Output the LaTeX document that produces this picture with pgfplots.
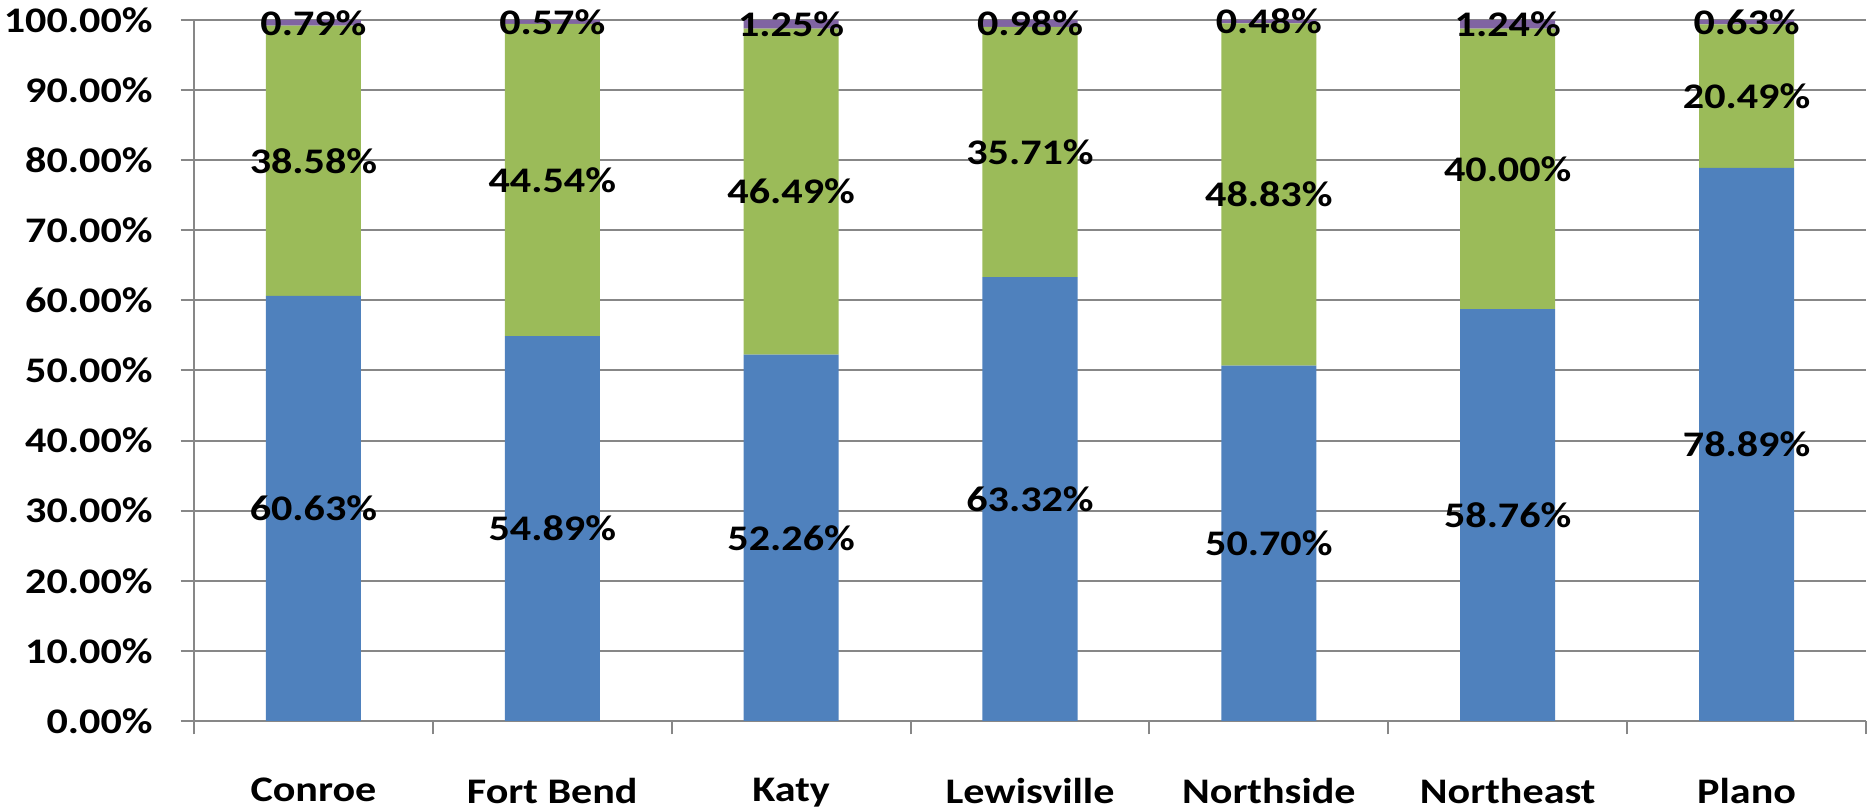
\documentclass[border=0pt]{standalone}
\usepackage{fontspec}
\setmainfont{Carlito}
\usepackage{graphicx}
\usepackage{pgfplots}
\usepackage{pgfplotstable}
\pgfplotsset{compat=1.18}

\definecolor{sBlue}{HTML}{4F81BD}
\definecolor{sGreen}{HTML}{9BBB59}
\definecolor{sPurple}{HTML}{8064A2}
\definecolor{axgray}{HTML}{878787}

% share of each district, in percent
\pgfplotstableread{
idx a     b     c
0   60.63 38.58 0.79
1   54.89 44.54 0.57
2   52.26 46.49 1.25
3   63.32 35.71 0.98
4   50.70 48.83 0.48
5   58.76 40.00 1.24
6   78.89 20.49 0.63
}\shares

\newcommand{\wide}[1]{\scalebox{1.17}[1]{#1}}
\newcommand{\lblfont}{\fontsize{10.8}{13}\selectfont\bfseries}

\pgfplotsset{
  frame/.style={scale only axis, width=501.6pt, height=210.3pt,
    xmin=-0.5, xmax=6.5, ymin=0, ymax=100,
    /pgf/number format/assume math mode=true},
}

\begin{document}
\begin{tikzpicture}
% the stacked bars
\begin{axis}[
  frame,
  ybar stacked, bar width=28.5pt,
  axis x line*=bottom, axis y line*=left,
  axis line style={axgray, line width=0.6pt},
  xtick={-0.5,0.5,...,6.5},
  x tick label as interval,
  xticklabels={\wide{Conroe},\wide{Fort Bend},\wide{Katy},\wide{Lewisville},
    \wide{Northside},\wide{Northeast},\wide{Plano}},
  xticklabel style={yshift=-9.6pt},
  ytick={0,10,...,100},
  yticklabel={\wide{\pgfmathprintnumber[fixed,fixed zerofill,precision=2]{\tick}\%}},
  tick align=outside, major tick length=4pt,
  tick style={axgray, line width=0.6pt},
  ymajorgrids, grid style={axgray, line width=0.6pt},
  tick label style={font=\lblfont},
  yticklabel style={anchor=east, xshift=-4.9pt},
]
\addplot[fill=sBlue, draw=none] table[x=idx, y=a] {\shares};
\addplot[fill=sGreen, draw=none] table[x=idx, y=b] {\shares};
\addplot[fill=sPurple, draw=none] table[x=idx, y=c] {\shares};
\end{axis}
% value labels, centred in each segment
\begin{axis}[
  frame, hide axis,
  point meta=explicit,
  nodes near coords={\wide{\pgfmathprintnumber[fixed,fixed zerofill,precision=2]{\pgfplotspointmeta}\%}},
  every node near coord/.append style={font=\lblfont, text=black, anchor=center},
]
\addplot[draw=none, mark=none]
  table[x=idx, y expr=\thisrow{a}/2, meta=a] {\shares};
\addplot[draw=none, mark=none]
  table[x=idx, y expr=\thisrow{a}+\thisrow{b}/2, meta=b] {\shares};
\addplot[draw=none, mark=none]
  table[x=idx, y expr=\thisrow{a}+\thisrow{b}+\thisrow{c}/2, meta=c] {\shares};
\end{axis}
\pgfresetboundingbox
\path (-58.2pt,-26.4pt) rectangle (501.9pt,216.3pt);
\end{tikzpicture}
\end{document}
